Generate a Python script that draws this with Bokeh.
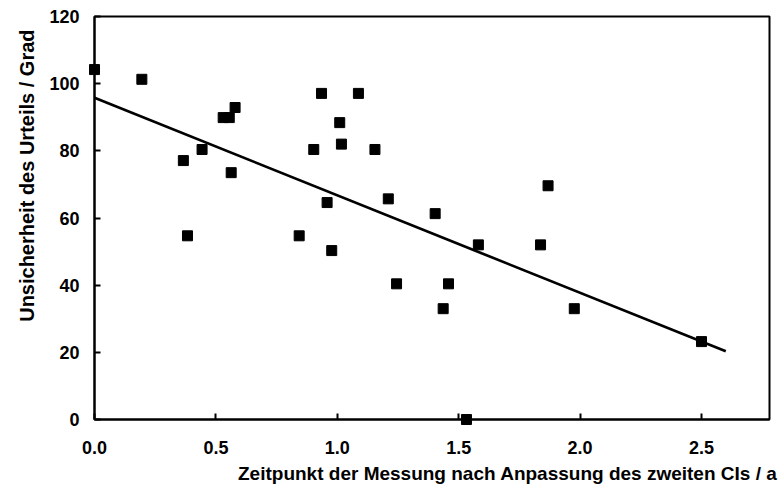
from bokeh.plotting import figure
from bokeh.models import Range1d, FixedTicker, NumeralTickFormatter, Title, ColumnDataSource
from bokeh.embed import file_html
from bokeh.resources import INLINE

# Data
zeit = [0.0, 0.195, 0.366, 0.383, 0.443, 0.53, 0.555, 0.563, 0.579, 0.843, 0.903,
        0.935, 0.958, 0.977, 1.01, 1.017, 1.087, 1.155, 1.21, 1.244, 1.403, 1.436,
        1.458, 1.532, 1.581, 1.837, 1.868, 1.976, 2.5]
unsicherheit = [104.2, 101.3, 77.1, 54.7, 80.4, 89.9, 89.9, 73.5, 92.9, 54.7, 80.4,
                97.1, 64.6, 50.3, 88.4, 82.0, 97.1, 80.4, 65.7, 40.4, 61.3, 33.0,
                40.4, 0.0, 52.0, 52.0, 69.6, 33.0, 23.2]
fit_x = [0.0, 2.6]
fit_y = [95.8, 20.3]

x_ticks = [0.0, 0.5, 1.0, 1.5, 2.0, 2.5]
y_ticks = [0, 20, 40, 60, 80, 100, 120]

FONT = "Liberation Sans"

p = figure(width=781, height=488, output_backend="svg", toolbar_location=None,
           x_range=Range1d(0, 2.78), y_range=Range1d(0, 120),
           min_border_left=94, min_border_right=12, min_border_top=16, min_border_bottom=69)
p.grid.visible = False
p.background_fill_color = "white"
p.border_fill_color = "white"
p.outline_line_color = "black"
p.outline_line_width = 2

for ax in (p.xaxis[0], p.yaxis[0]):
    ax.axis_line_width = 2
    ax.axis_line_color = "black"
    ax.major_tick_in = 6
    ax.major_tick_out = 0
    ax.major_tick_line_width = 2
    ax.minor_tick_line_color = None
    ax.major_label_text_font = FONT
    ax.major_label_text_font_style = "bold"
    ax.major_label_text_font_size = "18px"
    ax.major_label_text_color = "black"

p.xaxis.ticker = FixedTicker(ticks=x_ticks)
p.xaxis.formatter = NumeralTickFormatter(format="0.0")
p.xaxis.major_label_standoff = 21
p.yaxis.ticker = FixedTicker(ticks=y_ticks)
p.yaxis.major_label_standoff = 15

p.line(fit_x, fit_y, line_color="black", line_width=2.7)
src = ColumnDataSource(dict(x=zeit, y=unsicherheit))
r = p.scatter("x", "y", source=src, marker="square", size=10,
              fill_color="black", line_color="black")
r.level = "overlay"

xt = Title(text="Zeitpunkt der Messung nach Anpassung des zweiten CIs / a", align="right",
           text_font=FONT, text_font_style="bold", text_font_size="19px", offset=-8,
           standoff=8, text_color="black")
p.add_layout(xt, "below")
yt = Title(text="Unsicherheit des Urteils / Grad", align="right",
           text_font=FONT, text_font_style="bold", text_font_size="20px", offset=13,
           standoff=18, text_color="black")
p.add_layout(yt, "left")

open("out.html", "w").write(file_html(p, INLINE))
